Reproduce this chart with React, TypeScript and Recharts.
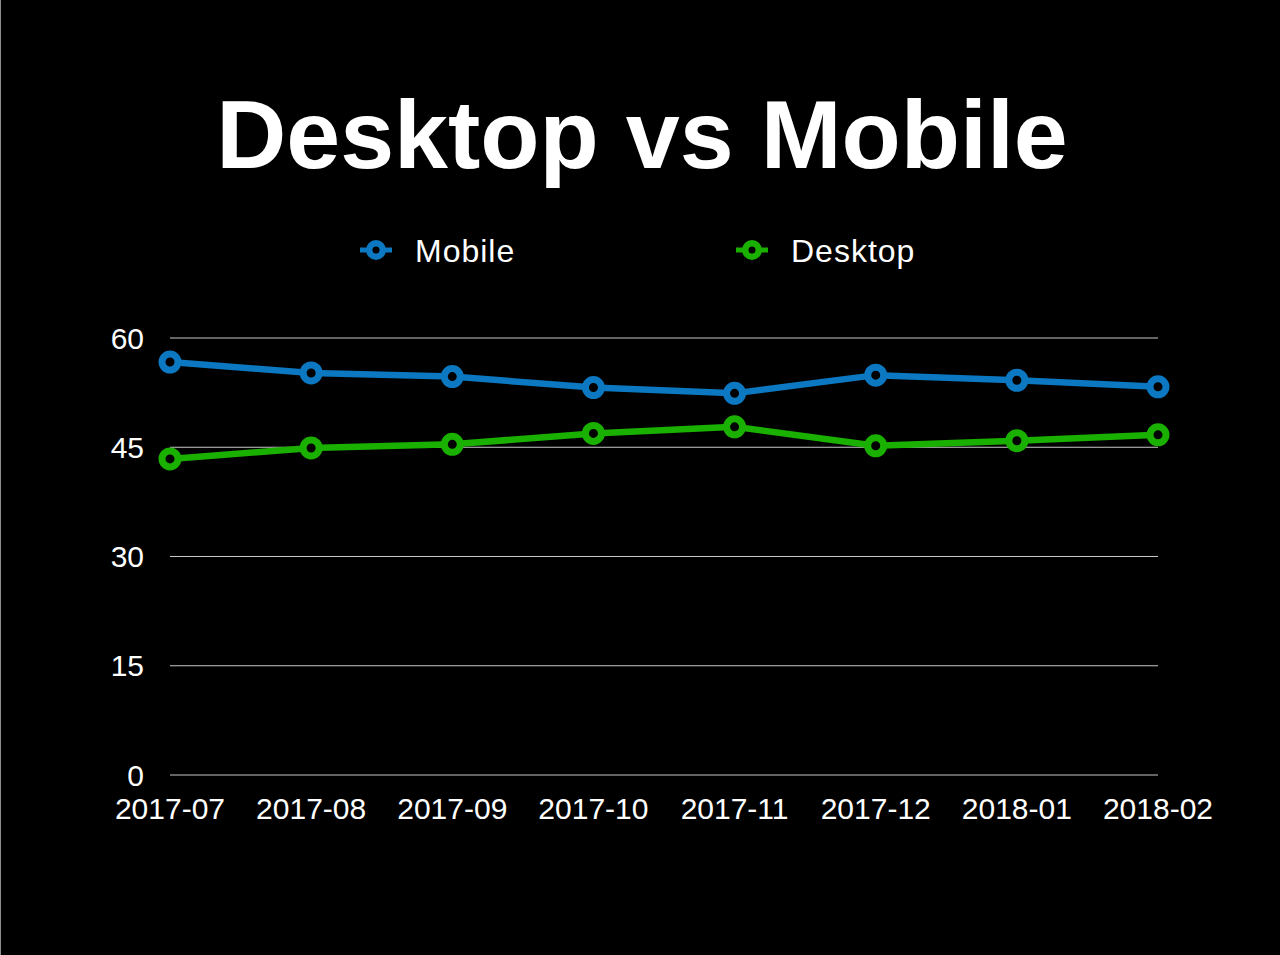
import React from "react";
import { CartesianGrid, Line, LineChart, XAxis, YAxis } from "recharts";

const months = [
  "2017-07",
  "2017-08",
  "2017-09",
  "2017-10",
  "2017-11",
  "2017-12",
  "2018-01",
  "2018-02",
];
const mobile = [56.7, 55.2, 54.7, 53.2, 52.4, 54.9, 54.2, 53.3];
const desktop = [43.4, 44.9, 45.4, 46.9, 47.8, 45.2, 45.9, 46.7];
const yTicks = [0, 15, 30, 45, 60];

const BLUE = "#0b78c1";
const GREEN = "#1ab000";
const FONT = '"Liberation Sans", Arial, Helvetica, sans-serif';

const data = months.map((m, i) => ({
  month: m,
  Mobile: mobile[i],
  Desktop: desktop[i],
}));

// ring marker with a black hole, like the keynote-style chart
function Ring({ cx, cy, color }: { cx?: number; cy?: number; color: string }) {
  if (cx == null || cy == null) return <g />;
  return (
    <circle cx={cx} cy={cy} r={8} fill="#000" stroke={color} strokeWidth={7} />
  );
}

function LegendMark({ x, y, color }: { x: number; y: number; color: string }) {
  return (
    <g>
      <line x1={x - 16} x2={x + 16} y1={y} y2={y} stroke={color} strokeWidth={5} />
      <circle cx={x} cy={y} r={6.75} fill="#000" stroke={color} strokeWidth={6.5} />
    </g>
  );
}

export default function App() {
  const tickStyle = { fill: "#fff", fontSize: 30, fontFamily: FONT };
  return (
    <div
      style={{
        position: "absolute",
        left: 0,
        top: 0,
        width: 1280,
        height: 955,
        background: "#000",
        fontFamily: FONT,
      }}
    >
      <LineChart
        width={1280}
        height={955}
        data={data}
        margin={{ top: 338, right: 122, bottom: 120, left: 110 }}
      >
        <CartesianGrid vertical={false} stroke="#c8c8c8" strokeWidth={1.2} />
        <XAxis
          dataKey="month"
          axisLine={false}
          tickLine={false}
          tickSize={0}
          tickMargin={23}
          interval={0}
          height={60}
          tick={tickStyle}
        />
        <YAxis
          domain={[0, 60]}
          ticks={yTicks}
          axisLine={false}
          tickLine={false}
          tickSize={0}
          tickMargin={26}
          width={60}
          tick={tickStyle}
        />
        <Line
          dataKey="Mobile"
          stroke={BLUE}
          strokeWidth={6.5}
          dot={<Ring color={BLUE} />}
          activeDot={false}
          isAnimationActive={false}
        />
        <Line
          dataKey="Desktop"
          stroke={GREEN}
          strokeWidth={6.5}
          dot={<Ring color={GREEN} />}
          activeDot={false}
          isAnimationActive={false}
        />
      </LineChart>

      {/* title + legend overlay */}
      <svg
        width={1280}
        height={300}
        style={{ position: "absolute", left: 0, top: 0 }}
      >
        <text
          x={642}
          y={168}
          textAnchor="middle"
          fill="#fff"
          fontSize={97}
          fontWeight="bold"
          fontFamily={FONT}
        >
          Desktop vs Mobile
        </text>
        <LegendMark x={376} y={250} color={BLUE} />
        <text
          x={415}
          y={262}
          fill="#fff"
          fontSize={32}
          letterSpacing={1}
          fontFamily={FONT}
        >
          Mobile
        </text>
        <LegendMark x={752} y={250} color={GREEN} />
        <text
          x={791}
          y={262}
          fill="#fff"
          fontSize={32}
          letterSpacing={1}
          fontFamily={FONT}
        >
          Desktop
        </text>
      </svg>

      <div
        style={{
          position: "absolute",
          left: 0,
          top: 0,
          width: 1,
          height: 955,
          background: "#8c8c8c",
        }}
      />
    </div>
  );
}
